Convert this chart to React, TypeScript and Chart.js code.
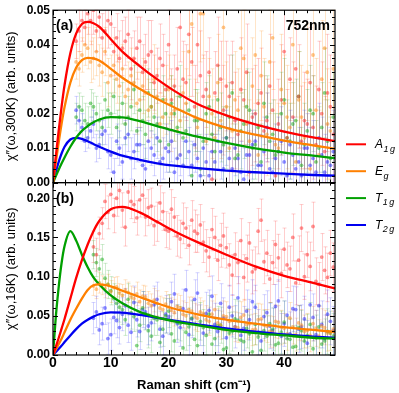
import React, { useEffect, useRef } from 'react';
import { Chart, registerables } from 'chart.js';

Chart.register(...registerables);

const FONT = '"Liberation Sans", Arial, Helvetica, sans-serif';

// ---------- Panel (a): χ''(ω,300K) ----------
const XA = [4, 4.5, 5, 5.5, 6, 6.5, 7, 7.5, 8, 8.5, 9, 9.5, 10, 10.5, 11, 11.5, 12, 12.5, 13, 13.5,
  14, 14.5, 15, 15.5, 16, 16.5, 17, 17.5, 18, 18.5, 19, 19.5, 20, 20.5, 21, 21.5, 22, 22.5, 23, 23.5,
  24, 24.5, 25, 25.5, 26, 26.5, 27, 27.5, 28, 28.5, 29, 29.5, 30, 30.5, 31, 31.5, 32, 32.5, 33, 33.5,
  34, 34.5, 35, 35.5, 36, 36.5, 37, 37.5, 38, 38.5, 39, 39.5, 40, 40.5, 41, 41.5, 42, 42.5, 43, 43.5,
  44, 44.5, 45, 45.5, 46, 46.5, 47, 47.5, 48, 48.5];

const A_RED = [
  0.041, 0.044, 0.047, 0.045, 0.049, 0.047, 0.050, 0.044, 0.048, 0.042,
  0.044, 0.047, 0.046, 0.038, 0.042, 0.036, 0.039, 0.041, 0.043, 0.033,
  0.036, 0.039, 0.041, 0.032, 0.035, 0.037, 0.038, 0.029, 0.031, 0.036,
  0.034, 0.027, 0.040, 0.024, 0.028, 0.033, 0.045, 0.030, 0.029, 0.043,
  0.035, 0.022, 0.040, 0.031, 0.025, 0.027, 0.032, 0.001, 0.026, 0.034,
  0.030, 0.021, 0.028, 0.025, 0.029, 0.018, 0.014, 0.027, 0.024, 0.032,
  0.003, 0.019, 0.020, 0.023, 0.026, 0.015, 0.018, 0.028, 0.021, 0.002,
  0.017, 0.024, 0.038, 0.013, 0.030, 0.019, 0.033, 0.025, 0.012, 0.018,
  0.017, 0.029, 0.016, 0.011, 0.027, 0.020, 0.009, 0.026, 0.022, 0.014];
const A_RED_ERR = [
  0.005, 0.006, 0.006, 0.005, 0.006, 0.007, 0.007, 0.006, 0.006, 0.007,
  0.007, 0.008, 0.006, 0.007, 0.007, 0.008, 0.008, 0.007, 0.007, 0.009,
  0.008, 0.009, 0.007, 0.008, 0.008, 0.010, 0.009, 0.008, 0.008, 0.010,
  0.009, 0.011, 0.010, 0.009, 0.009, 0.012, 0.010, 0.011, 0.011, 0.012,
  0.010, 0.012, 0.011, 0.013, 0.012, 0.011, 0.010, 0.013, 0.012, 0.014,
  0.011, 0.013, 0.013, 0.012, 0.012, 0.014, 0.011, 0.015, 0.013, 0.014,
  0.012, 0.014, 0.014, 0.013, 0.013, 0.016, 0.012, 0.015, 0.014, 0.013,
  0.013, 0.016, 0.015, 0.014, 0.012, 0.016, 0.014, 0.015, 0.016, 0.014,
  0.013, 0.016, 0.015, 0.017, 0.014, 0.015, 0.016, 0.017, 0.015, 0.016];

const A_ORANGE = [
  0.035, 0.033, 0.037, 0.040, 0.039, 0.035, 0.036, 0.038, 0.034, 0.032,
  0.038, 0.029, 0.031, 0.034, 0.030, 0.028, 0.033, 0.025, 0.027, 0.031,
  0.029, 0.023, 0.024, 0.028, 0.026, 0.021, 0.022, 0.030, 0.025, 0.017,
  0.019, 0.024, 0.027, 0.020, 0.021, 0.015, 0.018, 0.026, 0.023, 0.038,
  0.046, 0.019, 0.016, 0.049, 0.049, 0.012, 0.025, 0.020, 0.013, 0.029,
  0.018, 0.045, 0.022, 0.010, 0.015, 0.024, 0.021, 0.039, 0.036, 0.017,
  0.012, 0.028, 0.037, 0.008, 0.031, 0.022, 0.014, 0.035, 0.042, 0.011,
  0.010, 0.027, 0.023, 0.019, 0.016, 0.040, 0.006, 0.024, 0.019, 0.013,
  0.032, 0.004, 0.037, 0.021, 0.008, 0.030, 0.039, 0.017, 0.015, 0.033];
const A_ORANGE_ERR = [
  0.005, 0.005, 0.005, 0.006, 0.006, 0.006, 0.006, 0.007, 0.006, 0.007,
  0.007, 0.007, 0.006, 0.008, 0.007, 0.007, 0.007, 0.008, 0.008, 0.008,
  0.007, 0.009, 0.008, 0.008, 0.008, 0.009, 0.009, 0.010, 0.008, 0.009,
  0.009, 0.010, 0.010, 0.011, 0.009, 0.010, 0.010, 0.012, 0.010, 0.013,
  0.012, 0.011, 0.010, 0.014, 0.013, 0.012, 0.011, 0.013, 0.012, 0.014,
  0.011, 0.015, 0.013, 0.012, 0.012, 0.014, 0.012, 0.013, 0.014, 0.015,
  0.012, 0.014, 0.014, 0.016, 0.013, 0.014, 0.012, 0.015, 0.015, 0.013,
  0.013, 0.016, 0.014, 0.015, 0.013, 0.017, 0.012, 0.014, 0.015, 0.016,
  0.014, 0.016, 0.016, 0.015, 0.013, 0.017, 0.015, 0.016, 0.014, 0.017];

const A_GREEN = [
  0.019, 0.022, 0.021, 0.018, 0.017, 0.023, 0.022, 0.020, 0.018, 0.016,
  0.024, 0.021, 0.020, 0.025, 0.016, 0.019, 0.023, 0.017, 0.019, 0.022,
  0.027, 0.015, 0.021, 0.018, 0.014, 0.026, 0.022, 0.019, 0.017, 0.012,
  0.024, 0.020, 0.011, 0.023, 0.020, 0.016, 0.025, 0.013, 0.015, 0.021,
  0.002, 0.018, 0.018, 0.004, 0.012, 0.020, 0.022, 0.014, 0.009, 0.024,
  0.016, 0.011, 0.013, 0.019, 0.026, 0.007, 0.008, 0.015, 0.017, 0.022,
  0.021, 0.010, 0.011, 0.016, 0.006, 0.023, 0.019, 0.012, 0.014, 0.008,
  0.009, 0.020, 0.024, 0.013, 0.012, 0.017, 0.018, 0.025, 0.005, 0.011,
  0.015, 0.021, 0.020, 0.006, 0.010, 0.016, 0.026, 0.012, 0.007, 0.019];
const A_GREEN_ERR = [
  0.004, 0.004, 0.004, 0.005, 0.005, 0.004, 0.004, 0.005, 0.005, 0.005,
  0.005, 0.005, 0.006, 0.005, 0.005, 0.006, 0.006, 0.006, 0.006, 0.007,
  0.007, 0.006, 0.006, 0.007, 0.007, 0.007, 0.007, 0.008, 0.008, 0.007,
  0.007, 0.008, 0.008, 0.008, 0.008, 0.009, 0.009, 0.008, 0.008, 0.009,
  0.009, 0.009, 0.009, 0.010, 0.010, 0.009, 0.009, 0.010, 0.010, 0.010,
  0.010, 0.011, 0.009, 0.010, 0.011, 0.010, 0.010, 0.011, 0.010, 0.011,
  0.011, 0.010, 0.010, 0.011, 0.011, 0.012, 0.012, 0.011, 0.010, 0.012,
  0.011, 0.012, 0.012, 0.011, 0.011, 0.012, 0.012, 0.013, 0.011, 0.012,
  0.012, 0.013, 0.011, 0.012, 0.012, 0.013, 0.013, 0.012, 0.012, 0.013];

const A_BLUE = [
  0.021, 0.018, 0.016, 0.012, 0.013, 0.015, 0.017, 0.010, 0.011, 0.014,
  0.015, 0.009, 0.008, 0.003, 0.012, 0.010, 0.006, 0.013, 0.014, 0.007,
  0.009, 0.011, 0.011, 0.005, 0.004, 0.012, 0.010, 0.008, 0.013, 0.006,
  0.007, 0.010, 0.009, 0.012, 0.003, 0.007, 0.008, 0.005, 0.012, 0.009,
  0.005, 0.011, 0.007, 0.002, 0.010, 0.006, 0.002, 0.009, 0.006, 0.012,
  0.009, 0.004, 0.013, 0.007, 0.004, 0.010, 0.007, 0.003, 0.001, 0.008,
  0.008, 0.011, 0.012, 0.005, 0.005, 0.009, 0.016, 0.004, 0.003, 0.007,
  0.009, 0.012, 0.006, 0.002, 0.011, 0.008, 0.004, 0.006, 0.002, 0.010,
  0.010, 0.005, 0.007, 0.003, 0.013, 0.008, 0.003, 0.006, 0.005, 0.009];
const A_BLUE_ERR = [
  0.004, 0.004, 0.004, 0.003, 0.003, 0.004, 0.004, 0.004, 0.004, 0.004,
  0.004, 0.005, 0.005, 0.004, 0.005, 0.005, 0.005, 0.005, 0.005, 0.006,
  0.005, 0.005, 0.005, 0.006, 0.006, 0.006, 0.005, 0.006, 0.006, 0.006,
  0.006, 0.007, 0.006, 0.006, 0.007, 0.007, 0.006, 0.007, 0.007, 0.007,
  0.007, 0.008, 0.007, 0.007, 0.008, 0.008, 0.007, 0.008, 0.008, 0.008,
  0.008, 0.009, 0.008, 0.009, 0.009, 0.008, 0.008, 0.009, 0.009, 0.009,
  0.009, 0.010, 0.008, 0.009, 0.009, 0.010, 0.010, 0.009, 0.009, 0.010,
  0.010, 0.010, 0.009, 0.010, 0.010, 0.011, 0.010, 0.010, 0.010, 0.011,
  0.010, 0.011, 0.011, 0.010, 0.010, 0.011, 0.011, 0.011, 0.011, 0.012];

// ---------- Panel (b): χ''(ω,16K) ----------
const XB = [7, 7.5, 8, 8.5, 9, 9.5, 10, 10.5, 11, 11.5, 12, 12.5, 13, 13.5, 14, 14.5, 15, 15.5, 16, 16.5,
  17, 17.5, 18, 18.5, 19, 19.5, 20, 20.5, 21, 21.5, 22, 22.5, 23, 23.5, 24, 24.5, 25, 25.5, 26, 26.5,
  27, 27.5, 28, 28.5, 29, 29.5, 30, 30.5, 31, 31.5, 32, 32.5, 33, 33.5, 34, 34.5, 35, 35.5, 36, 36.5,
  37, 37.5, 38, 38.5, 39, 39.5, 40, 40.5, 41, 41.5, 42, 42.5, 43, 43.5, 44, 44.5, 45, 45.5, 46, 46.5,
  47, 47.5, 48, 48.5];

const B_RED = [
  0.138, 0.128, 0.155, 0.168, 0.196, 0.182, 0.205, 0.178, 0.200, 0.210,
  0.185, 0.163, 0.208, 0.196, 0.192, 0.175, 0.198, 0.204, 0.176, 0.188,
  0.190, 0.165, 0.170, 0.194, 0.183, 0.160, 0.158, 0.186, 0.176, 0.152,
  0.148, 0.168, 0.162, 0.140, 0.172, 0.158, 0.155, 0.166, 0.144, 0.133,
  0.125, 0.160, 0.150, 0.121, 0.140, 0.152, 0.137, 0.115, 0.102, 0.128,
  0.118, 0.146, 0.099, 0.123, 0.143, 0.106, 0.110, 0.158, 0.172, 0.119,
  0.130, 0.097, 0.118, 0.141, 0.124, 0.104, 0.135, 0.115, 0.110, 0.150,
  0.092, 0.121, 0.162, 0.100, 0.128, 0.113, 0.164, 0.094, 0.090, 0.125,
  0.108, 0.099, 0.130, 0.112];
const B_RED_ERR = [
  0.020, 0.021, 0.021, 0.020, 0.022, 0.021, 0.020, 0.022, 0.023, 0.021,
  0.022, 0.024, 0.021, 0.022, 0.023, 0.022, 0.022, 0.024, 0.024, 0.023,
  0.023, 0.025, 0.025, 0.022, 0.024, 0.023, 0.023, 0.025, 0.025, 0.026,
  0.024, 0.026, 0.026, 0.025, 0.025, 0.027, 0.024, 0.026, 0.026, 0.027,
  0.025, 0.027, 0.027, 0.026, 0.028, 0.029, 0.026, 0.027, 0.026, 0.028,
  0.027, 0.028, 0.029, 0.030, 0.026, 0.028, 0.028, 0.029, 0.027, 0.028,
  0.029, 0.030, 0.028, 0.030, 0.030, 0.031, 0.027, 0.029, 0.029, 0.030,
  0.028, 0.031, 0.030, 0.029, 0.029, 0.031, 0.031, 0.030, 0.028, 0.030,
  0.030, 0.031, 0.029, 0.031];

const B_ORANGE = [
  0.088, 0.084, 0.092, 0.089, 0.085, 0.090, 0.081, 0.086, 0.087, 0.079,
  0.076, 0.083, 0.080, 0.074, 0.072, 0.078, 0.068, 0.075, 0.074, 0.066,
  0.063, 0.070, 0.066, 0.060, 0.058, 0.065, 0.061, 0.057, 0.054, 0.062,
  0.060, 0.052, 0.050, 0.058, 0.056, 0.049, 0.047, 0.055, 0.053, 0.045,
  0.043, 0.052, 0.058, 0.041, 0.038, 0.050, 0.049, 0.043, 0.044, 0.036,
  0.035, 0.048, 0.051, 0.039, 0.040, 0.032, 0.033, 0.045, 0.046, 0.038,
  0.037, 0.030, 0.029, 0.043, 0.042, 0.035, 0.034, 0.027, 0.047, 0.036,
  0.026, 0.041, 0.038, 0.030, 0.031, 0.025, 0.040, 0.034, 0.024, 0.037,
  0.035, 0.028, 0.028, 0.033];
const B_ORANGE_ERR = [
  0.012, 0.012, 0.013, 0.012, 0.012, 0.013, 0.014, 0.013, 0.013, 0.012,
  0.014, 0.013, 0.013, 0.014, 0.014, 0.015, 0.015, 0.014, 0.014, 0.015,
  0.015, 0.015, 0.016, 0.015, 0.015, 0.016, 0.016, 0.016, 0.017, 0.016,
  0.016, 0.017, 0.017, 0.016, 0.018, 0.017, 0.017, 0.018, 0.016, 0.018,
  0.018, 0.017, 0.019, 0.018, 0.018, 0.019, 0.019, 0.018, 0.018, 0.019,
  0.019, 0.020, 0.020, 0.019, 0.018, 0.020, 0.020, 0.021, 0.019, 0.020,
  0.021, 0.020, 0.020, 0.021, 0.021, 0.022, 0.019, 0.021, 0.020, 0.022,
  0.021, 0.022, 0.020, 0.021, 0.022, 0.021, 0.022, 0.023, 0.021, 0.022,
  0.022, 0.023, 0.022, 0.023];

const B_GREEN = [
  0.128, 0.118, 0.110, 0.122, 0.098, 0.090, 0.082, 0.072, 0.066, 0.061,
  0.058, 0.045, 0.071, 0.054, 0.049, 0.012, 0.038, 0.060, 0.052, 0.031,
  0.024, 0.047, 0.045, 0.016, 0.033, 0.050, 0.056, 0.027, 0.018, 0.042,
  0.040, 0.009, 0.029, 0.036, 0.047, 0.020, 0.012, 0.043, 0.035, 0.025,
  0.052, 0.014, 0.021, 0.037, 0.038, 0.007, 0.009, 0.028, 0.030, 0.046,
  0.044, 0.019, 0.017, 0.034, 0.027, 0.004, 0.039, 0.023, 0.006, 0.031,
  0.024, 0.040, 0.033, 0.013, 0.015, 0.029, 0.042, 0.021, 0.020, 0.010,
  0.011, 0.035, 0.031, 0.018, 0.025, 0.039, 0.008, 0.022, 0.036, 0.014,
  0.018, 0.030, 0.028, 0.024];
const B_GREEN_ERR = [
  0.018, 0.018, 0.017, 0.019, 0.019, 0.018, 0.018, 0.019, 0.020, 0.019,
  0.019, 0.020, 0.020, 0.021, 0.019, 0.020, 0.021, 0.021, 0.020, 0.022,
  0.021, 0.022, 0.020, 0.021, 0.022, 0.022, 0.021, 0.023, 0.023, 0.022,
  0.022, 0.023, 0.023, 0.024, 0.022, 0.023, 0.024, 0.024, 0.023, 0.025,
  0.024, 0.024, 0.025, 0.025, 0.023, 0.024, 0.024, 0.026, 0.025, 0.025,
  0.025, 0.026, 0.026, 0.025, 0.024, 0.026, 0.026, 0.027, 0.025, 0.026,
  0.026, 0.027, 0.027, 0.026, 0.025, 0.027, 0.027, 0.028, 0.026, 0.027,
  0.027, 0.028, 0.026, 0.027, 0.027, 0.028, 0.028, 0.029, 0.027, 0.028,
  0.028, 0.029, 0.028, 0.029];

const B_BLUE = [
  0.047, 0.055, 0.032, 0.040, 0.060, 0.021, 0.026, 0.048, 0.044, 0.035,
  0.052, 0.063, 0.038, 0.029, 0.067, 0.045, 0.030, 0.058, 0.055, 0.037,
  0.041, 0.064, 0.071, 0.033, 0.024, 0.052, 0.049, 0.068, 0.078, 0.040,
  0.035, 0.059, 0.083, 0.026, 0.046, 0.071, 0.079, 0.038, 0.028, 0.053,
  0.057, 0.075, 0.039, 0.030, 0.066, 0.047, 0.022, 0.061, 0.050, 0.036,
  0.073, 0.025, 0.034, 0.056, 0.045, 0.068, 0.061, 0.029, 0.018, 0.049,
  0.054, 0.037, 0.031, 0.062, 0.069, 0.024, 0.040, 0.051, 0.027, 0.059,
  0.058, 0.033, 0.036, 0.046, 0.015, 0.064, 0.048, 0.026, 0.063, 0.039,
  0.021, 0.052, 0.043, 0.031];
const B_BLUE_ERR = [
  0.020, 0.020, 0.019, 0.021, 0.021, 0.020, 0.020, 0.021, 0.022, 0.021,
  0.021, 0.022, 0.022, 0.023, 0.021, 0.022, 0.023, 0.023, 0.022, 0.024,
  0.023, 0.024, 0.022, 0.023, 0.024, 0.024, 0.023, 0.025, 0.025, 0.024,
  0.024, 0.025, 0.025, 0.026, 0.024, 0.025, 0.026, 0.026, 0.025, 0.027,
  0.026, 0.026, 0.027, 0.027, 0.025, 0.026, 0.026, 0.028, 0.027, 0.027,
  0.027, 0.028, 0.028, 0.027, 0.026, 0.028, 0.028, 0.029, 0.027, 0.028,
  0.028, 0.029, 0.029, 0.028, 0.027, 0.029, 0.029, 0.030, 0.028, 0.029,
  0.029, 0.030, 0.028, 0.029, 0.029, 0.030, 0.030, 0.031, 0.029, 0.030,
  0.030, 0.031, 0.030, 0.031];

// ---------- Fitted curves ----------
const CURVE_X = [0, 0.5, 1, 1.5, 2, 3, 4, 5, 6, 7, 8, 10, 12, 15, 18, 21, 25, 30, 35, 40, 45, 48.8];
const CA_RED = [0, 0.0078, 0.0153, 0.0222, 0.0283, 0.0375, 0.0432, 0.0460, 0.0466, 0.0462, 0.0452,
  0.0416, 0.0380, 0.0338, 0.0300, 0.0266, 0.0228, 0.0195, 0.0169, 0.0148, 0.0131, 0.0120];
const CA_ORANGE = [0, 0.0060, 0.0118, 0.0172, 0.0219, 0.0290, 0.0333, 0.0355, 0.0362, 0.0360, 0.0354,
  0.0330, 0.0304, 0.0272, 0.0243, 0.0218, 0.0187, 0.0159, 0.0139, 0.0122, 0.0108, 0.0098];
const CA_GREEN = [0, 0.0019, 0.0038, 0.0056, 0.0073, 0.0104, 0.0130, 0.0150, 0.0164, 0.0175, 0.0183,
  0.0190, 0.0189, 0.0178, 0.0164, 0.0150, 0.0133, 0.0115, 0.0099, 0.0087, 0.0078, 0.0071];
const CA_BLUE = [0, 0.0032, 0.0061, 0.0085, 0.0104, 0.0125, 0.0130, 0.0127, 0.0120, 0.0112, 0.0104,
  0.0090, 0.0078, 0.0066, 0.0056, 0.0049, 0.0042, 0.0035, 0.0030, 0.0026, 0.0022, 0.0020];

const CB_RED = [0, 0.011, 0.022, 0.034, 0.046, 0.072, 0.098, 0.121, 0.141, 0.158, 0.171,
  0.186, 0.189, 0.182, 0.170, 0.158, 0.144, 0.128, 0.113, 0.101, 0.092, 0.085];
const CB_ORANGE = [0, 0.007, 0.014, 0.021, 0.029, 0.045, 0.059, 0.072, 0.083, 0.089, 0.090,
  0.0875, 0.082, 0.074, 0.066, 0.059, 0.052, 0.045, 0.040, 0.0355, 0.032, 0.0295];
const CB_GREEN = [0, 0.050, 0.088, 0.118, 0.139, 0.158, 0.146, 0.128, 0.112, 0.099, 0.090,
  0.076, 0.066, 0.055, 0.048, 0.043, 0.038, 0.032, 0.028, 0.025, 0.022, 0.021];
const CB_BLUE = [0, 0.004, 0.008, 0.012, 0.0165, 0.025, 0.033, 0.040, 0.045, 0.049, 0.052,
  0.0544, 0.054, 0.0512, 0.0475, 0.0437, 0.0392, 0.0338, 0.0298, 0.0262, 0.0235, 0.0218];

// ---------- Labels & styling ----------
const LEGEND_MAIN = ['A', 'E', 'T', 'T'];
const LEGEND_SUB = ['1g', 'g', '1g', '2g'];
const COLORS = ['rgb(255,0,0)', 'rgb(255,128,0)', 'rgb(0,160,0)', 'rgb(0,0,240)'];
const POINT_COLORS = ['rgba(255,40,40,0.5)', 'rgba(255,140,20,0.5)', 'rgba(20,170,20,0.5)', 'rgba(30,30,255,0.5)'];
const ERROR_COLORS = ['rgba(255,60,60,0.25)', 'rgba(255,150,40,0.25)', 'rgba(40,170,40,0.22)', 'rgba(60,60,255,0.22)'];
const PANEL_LABELS = ['(a)', '(b)'];
const WAVELENGTH = '752nm';
const Y_TITLE_A = 'χ″(ω,300K) (arb. units)';
const Y_TITLE_B = 'χ″(ω,16K) (arb. units)';
const X_TITLE = 'Raman shift (cm⁻¹)';

const pts = (xs: number[], ys: number[]) => xs.map((x, i) => ({ x, y: ys[i] }));

const CURVES_A = [CA_RED, CA_ORANGE, CA_GREEN, CA_BLUE];
const CURVES_B = [CB_RED, CB_ORANGE, CB_GREEN, CB_BLUE];
const POINTS_A = [A_RED, A_ORANGE, A_GREEN, A_BLUE];
const ERRS_A = [A_RED_ERR, A_ORANGE_ERR, A_GREEN_ERR, A_BLUE_ERR];
const POINTS_B = [B_RED, B_ORANGE, B_GREEN, B_BLUE];
const ERRS_B = [B_RED_ERR, B_ORANGE_ERR, B_GREEN_ERR, B_BLUE_ERR];

function buildDatasets() {
  const ds: any[] = [];
  [['ya', CURVES_A], ['yb', CURVES_B]].forEach(([axis, curves]: any) => {
    curves.forEach((c: number[], k: number) => {
      ds.push({
        type: 'line', yAxisID: axis, data: pts(CURVE_X, c),
        borderColor: COLORS[k], borderWidth: 2.3, pointRadius: 0,
        cubicInterpolationMode: 'monotone', fill: false,
      });
    });
  });
  [['ya', XA, POINTS_A, ERRS_A], ['yb', XB, POINTS_B, ERRS_B]].forEach(([axis, xs, ps, es]: any) => {
    ps.forEach((p: number[], k: number) => {
      ds.push({
        type: 'scatter', yAxisID: axis, data: pts(xs, p), errors: es[k],
        errorColor: ERROR_COLORS[k],
        backgroundColor: POINT_COLORS[k], borderWidth: 0, pointRadius: 1.9,
      });
    });
  });
  return ds;
}

const errorBarPlugin = {
  id: 'errorBars',
  beforeDatasetsDraw(chart: any) {
    const { ctx } = chart;
    const xs = chart.scales.x;
    chart.data.datasets.forEach((ds: any) => {
      if (!ds.errors) return;
      const ys = chart.scales[ds.yAxisID];
      ctx.save();
      ctx.strokeStyle = ds.errorColor;
      ctx.lineWidth = 1;
      ds.data.forEach((p: any, j: number) => {
        const e = ds.errors[j];
        const px = Math.round(xs.getPixelForValue(p.x)) + 0.5;
        let y1 = ys.getPixelForValue(p.y + e);
        let y2 = ys.getPixelForValue(p.y - e);
        const c1 = y1 < ys.top;
        const c2 = y2 > ys.bottom;
        y1 = Math.max(y1, ys.top);
        y2 = Math.min(y2, ys.bottom);
        ctx.beginPath();
        ctx.moveTo(px, y1);
        ctx.lineTo(px, y2);
        if (!c1) { ctx.moveTo(px - 2, y1); ctx.lineTo(px + 2, y1); }
        if (!c2) { ctx.moveTo(px - 2, y2); ctx.lineTo(px + 2, y2); }
        ctx.stroke();
      });
      ctx.restore();
    });
  },
};

const framePlugin = {
  id: 'frame',
  afterDatasetsDraw(chart: any) {
    const { ctx, chartArea } = chart;
    const xs = chart.scales.x;
    const panels = [
      { s: chart.scales.ya, minor: 0.002, n: 25 },
      { s: chart.scales.yb, minor: 0.01, n: 22 },
    ];
    ctx.save();
    ctx.strokeStyle = '#000';
    ctx.lineWidth = 1;
    panels.forEach(({ s, minor, n }, pi) => {
      const top = s.top, bottom = s.bottom;
      const L = chartArea.left, R = chartArea.right;
      ctx.beginPath();
      for (let k = 0; k <= 24; k++) {
        const v = k * 2;
        const px = Math.round(xs.getPixelForValue(v)) + 0.5;
        const len = v % 10 === 0 ? 5 : 3;
        ctx.moveTo(px, bottom); ctx.lineTo(px, bottom - len);
        ctx.moveTo(px, top); ctx.lineTo(px, top + len);
      }
      for (let k = 0; k <= n; k++) {
        const py = Math.round(s.getPixelForValue(k * minor)) + 0.5;
        const len = k % 5 === 0 ? 5 : 3;
        ctx.moveTo(L, py); ctx.lineTo(L + len, py);
        ctx.moveTo(R, py); ctx.lineTo(R - len, py);
      }
      ctx.stroke();
      ctx.lineWidth = 1.2;
      ctx.strokeRect(L, top, R - L, bottom - top);
      ctx.lineWidth = 1;
      ctx.fillStyle = '#000';
      ctx.font = `bold 14px ${FONT}`;
      ctx.textAlign = 'left';
      ctx.textBaseline = 'alphabetic';
      ctx.fillText(PANEL_LABELS[pi], L + 3, top + 20);
      if (pi === 0) {
        ctx.textAlign = 'right';
        ctx.fillText(WAVELENGTH, R - 5, top + 20);
      }
    });
    ctx.restore();
  },
};

const legendPlugin = {
  id: 'customLegend',
  afterDraw(chart: any) {
    const { ctx, chartArea } = chart;
    const mid = (chartArea.top + chartArea.bottom) / 2;
    const x0 = chartArea.right;
    ctx.save();
    LEGEND_MAIN.forEach((m, i) => {
      const y = mid - 38.3 + i * 26.9;
      ctx.strokeStyle = COLORS[i];
      ctx.lineWidth = 2;
      ctx.beginPath();
      ctx.moveTo(x0 + 11, y);
      ctx.lineTo(x0 + 31, y);
      ctx.stroke();
      ctx.fillStyle = '#000';
      ctx.textAlign = 'left';
      ctx.textBaseline = 'alphabetic';
      ctx.font = `italic 12px ${FONT}`;
      ctx.fillText(m, x0 + 40, y + 4);
      const w = ctx.measureText(m).width;
      ctx.font = `italic 9px ${FONT}`;
      (ctx as any).letterSpacing = '1.5px';
      ctx.fillText(LEGEND_SUB[i], x0 + 40 + w + 0.5, y + 7.3);
      (ctx as any).letterSpacing = '0px';
    });
    ctx.restore();
  },
};

function yAxis(max: number, step: number, title: string, weight: number) {
  return {
    type: 'linear',
    position: 'left',
    stack: 'panels',
    stackWeight: 1,
    weight,
    min: 0,
    max,
    grid: { display: false, drawTicks: false },
    border: { display: false },
    ticks: {
      stepSize: step,
      includeBounds: false,
      autoSkip: false,
      padding: 3,
      color: '#000',
      font: { family: FONT, size: 12, weight: 'bold' },
      callback: (v: any) => Number(v).toFixed(2),
    },
    title: {
      display: true,
      text: title,
      color: '#000',
      font: { family: FONT, size: 13 },
      padding: { top: 4, bottom: 0 },
    },
    afterFit: (s: any) => { s.width = 53; },
  };
}

export default function App() {
  const ref = useRef<HTMLCanvasElement>(null);
  useEffect(() => {
    document.body.style.margin = '0';
    const canvas = ref.current;
    if (!canvas) return;
    const chart = new Chart(canvas, {
      type: 'scatter',
      data: { datasets: buildDatasets() },
      options: {
        responsive: false,
        animation: false,
        events: [],
        layout: { padding: { left: 0, right: 64, top: 7, bottom: 0 } },
        plugins: { legend: { display: false }, tooltip: { enabled: false } },
        scales: {
          x: {
            type: 'linear',
            position: 'bottom',
            min: 0,
            max: 48.8,
            grid: { display: false, drawTicks: false },
            border: { display: false },
            ticks: {
              stepSize: 10,
              includeBounds: false,
              autoSkip: false,
              padding: 0,
              color: '#000',
              maxRotation: 0,
              font: { family: FONT, size: 14, weight: 'bold' },
              callback: (v: any) => String(Math.round(Number(v))),
            },
            title: {
              display: true,
              text: X_TITLE,
              color: '#000',
              font: { family: FONT, size: 13, weight: 'bold' },
              padding: { top: 0, bottom: 0 },
            },
            afterFit: (s: any) => { s.height = 38; },
          },
          ya: yAxis(0.05, 0.01, Y_TITLE_A, 1),
          yb: yAxis(0.22, 0.05, Y_TITLE_B, 0),
        } as any,
      },
      plugins: [errorBarPlugin, framePlugin, legendPlugin],
    } as any);
    return () => chart.destroy();
  }, []);
  return <canvas ref={ref} width={399} height={393} style={{ display: 'block' }} />;
}
